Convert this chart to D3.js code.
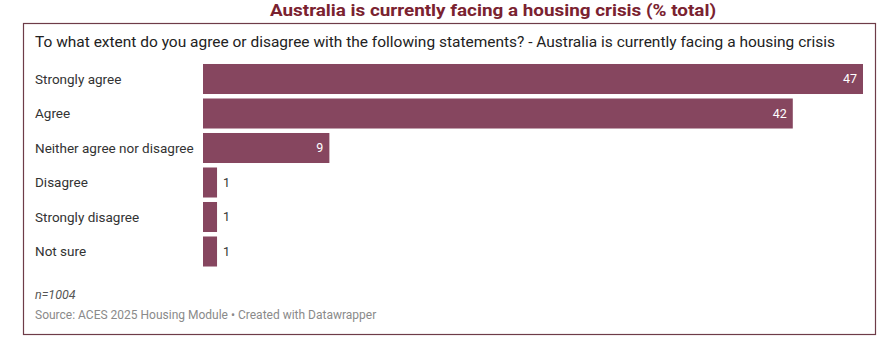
<!DOCTYPE html>
<html>
<head>
<meta charset="utf-8">
<script src="https://cdn.jsdelivr.net/npm/d3@7"></script>
<style>
  body { margin: 0; background: #fff; }
  svg { display: block; font-family: Roboto, "Noto Sans", sans-serif; }
</style>
</head>
<body>
<div id="chart"></div>
<script>
// data
var categories = ["Strongly agree", "Agree", "Neither agree nor disagree", "Disagree", "Strongly disagree", "Not sure"];
var values = [47, 42, 9, 1, 1, 1];
var xTicks = [0, 47];

var title = "Australia is currently facing a housing crisis (% total)";
var subtitle = "To what extent do you agree or disagree with the following statements? - Australia is currently facing a housing crisis";
var note = "n=1004";
var source = "Source: ACES 2025 Housing Module \u2022 Created with Datawrapper";

var width = 883, height = 343;
var barColor = "#86465f";

var svg = d3.select("#chart").append("svg")
    .attr("width", width)
    .attr("height", height);

// title above the box
svg.append("text")
    .attr("x", 270)
    .attr("y", 16)
    .attr("textLength", 446)
    .attr("lengthAdjust", "spacingAndGlyphs")
    .style("font-family", "'Liberation Sans Narrow', Roboto, sans-serif")
    .style("font-weight", "bold")
    .style("font-size", "16px")
    .style("fill", "#7a2230")
    .text(title);

// frame
svg.append("rect")
    .attr("x", 23.5)
    .attr("y", 23.5)
    .attr("width", 852)
    .attr("height", 311)
    .attr("fill", "none")
    .attr("stroke", "#6e3c48")
    .attr("stroke-width", 1.2);

svg.append("text")
    .attr("x", 35)
    .attr("y", 47)
    .attr("textLength", 800)
    .attr("lengthAdjust", "spacingAndGlyphs")
    .style("font-size", "15px")
    .style("fill", "#222")
    .text(subtitle);

// scales
var x = d3.scaleLinear()
    .domain(d3.extent(xTicks))
    .range([203, 863]);

var y = d3.scaleBand()
    .domain(categories)
    .range([61.75, 268.75])
    .paddingInner(0.13)
    .paddingOuter(0.065);

var rows = svg.selectAll(".row")
    .data(categories)
    .enter()
    .append("g")
    .attr("class", "row");

rows.append("text")
    .attr("x", 35)
    .attr("y", d => y(d) + y.bandwidth() / 2)
    .attr("dy", "0.35em")
    .style("font-size", "13.5px")
    .style("fill", "#333")
    .text(d => d);

rows.append("rect")
    .attr("x", x(0))
    .attr("y", d => y(d))
    .attr("width", (d, i) => x(values[i]) - x(0))
    .attr("height", y.bandwidth())
    .attr("fill", barColor);

// value labels: inside for long bars, outside for tiny ones
rows.append("text")
    .attr("x", (d, i) => values[i] > 5 ? x(values[i]) - 6 : x(values[i]) + 6)
    .attr("y", d => y(d) + y.bandwidth() / 2)
    .attr("dy", "0.35em")
    .style("text-anchor", (d, i) => values[i] > 5 ? "end" : "start")
    .style("font-size", "12.5px")
    .style("fill", (d, i) => values[i] > 5 ? "#fff" : "#333")
    .text((d, i) => values[i]);

svg.append("text")
    .attr("x", 35)
    .attr("y", 299)
    .style("font-size", "12.5px")
    .style("font-style", "italic")
    .style("fill", "#555")
    .text(note);

svg.append("text")
    .attr("x", 35)
    .attr("y", 319)
    .style("font-size", "12px")
    .style("fill", "#8a8a8a")
    .text(source);
</script>
</body>
</html>
